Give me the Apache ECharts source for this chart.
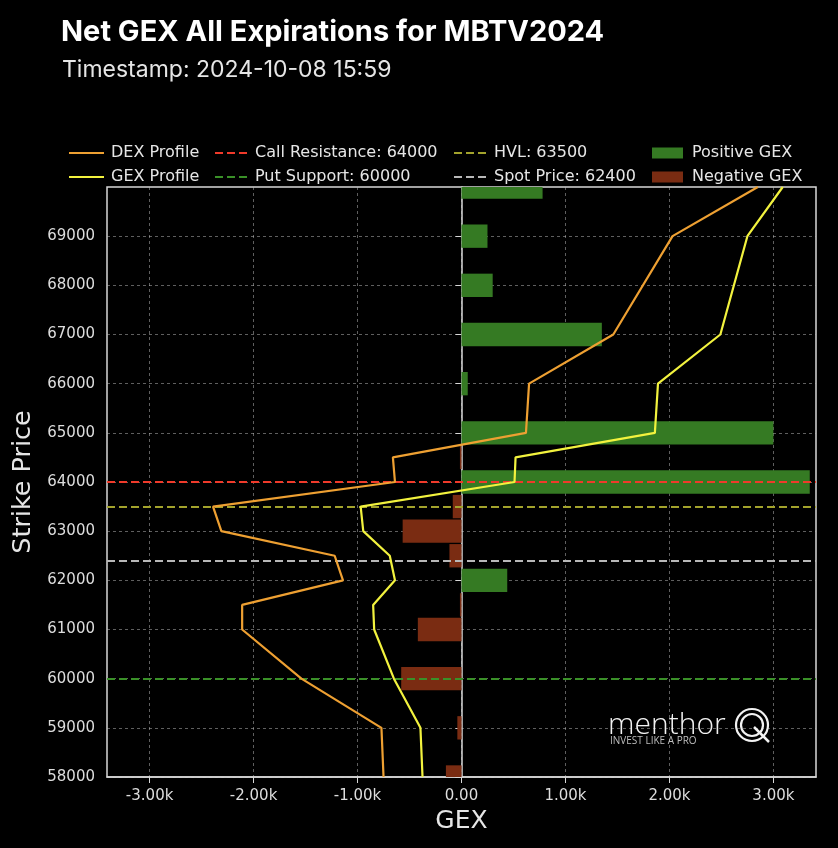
<!DOCTYPE html>
<html>
<head>
<meta charset="utf-8">
<script src="https://cdn.jsdelivr.net/npm/echarts@6/dist/echarts.min.js"></script>
<style>
  html, body { margin: 0; padding: 0; background: #000; }
  #chart { width: 838px; height: 848px; }
</style>
</head>
<body>
<div id="chart"></div>
<script>
// ---- data ----
const titleText = 'Net GEX All Expirations for MBTV2024';
const subtitleText = 'Timestamp: 2024-10-08 15:59';

const strikes = [58000, 58500, 59000, 59500, 60000, 60500, 61000, 61500, 62000, 62500,
                 63000, 63500, 64000, 64500, 65000, 65500, 66000, 66500, 67000, 67500,
                 68000, 68500, 69000, 69500, 70000];
const netGex  = [-150, 0, -40, 0, -580, 0, -420, -15, 440, -116,
                 -566, -84, 3350, -15, 3000, 0, 60, 0, 1350, 0,
                 300, 0, 250, 0, 780];

const profileStrikes = [58000, 59000, 60000, 61000, 61500, 62000, 62500, 63000, 63500,
                        64000, 64500, 65000, 66000, 67000, 69000, 70000];
const dexProfile = [-750, -770, -1540, -2110, -2110, -1140, -1220, -2310, -2390,
                    -640, -660, 620, 650, 1460, 2030, 2850];
const gexProfile = [-375, -395, -650, -840, -850, -640, -690, -945, -970,
                    510, 520, 1860, 1890, 2490, 2750, 3090];

const callResistance = 64000;
const putSupport = 60000;
const hvl = 63500;
const spotPrice = 62400;

const xTickValues = [-3000, -2000, -1000, 0, 1000, 2000, 3000];
const xTickLabels = ['-3.00k', '-2.00k', '-1.00k', '0.00', '1.00k', '2.00k', '3.00k'];
const yTickValues = [58000, 59000, 60000, 61000, 62000, 63000, 64000, 65000, 66000, 67000, 68000, 69000];
const yTickLabels = ['58000', '59000', '60000', '61000', '62000', '63000', '64000', '65000', '66000', '67000', '68000', '69000'];

// ---- chart ----
const chart = echarts.init(document.getElementById('chart'));
const BAR_HEIGHT = 475;
const FONT = '"DejaVu Sans", sans-serif';

function renderBar(params, api) {
  const v = api.value(0), s = api.value(1);
  const a = api.coord([0, s]);
  const b = api.coord([v, s]);
  const h = api.size([0, BAR_HEIGHT])[1];
  const cs = params.coordSys;
  const rect = echarts.graphic.clipRectByRect(
    { x: Math.min(a[0], b[0]), y: a[1] - h / 2, width: Math.abs(b[0] - a[0]), height: h },
    { x: cs.x, y: cs.y, width: cs.width, height: cs.height });
  return rect && { type: 'rect', shape: rect, style: api.style() };
}

const posData = [], negData = [];
strikes.forEach((s, i) => {
  if (netGex[i] > 0) posData.push([netGex[i], s]);
  else if (netGex[i] < 0) negData.push([netGex[i], s]);
});

function levelSeries(name, value, color) {
  return {
    name: name, type: 'line', data: [], symbol: 'none', color: color,
    lineStyle: { color: color, width: 2, type: [8, 4] },
    markLine: {
      silent: true, symbol: 'none', label: { show: false },
      lineStyle: { color: color, width: 2, type: [8, 4] },
      data: [{ yAxis: value }]
    },
    z: 4
  };
}

const legendCommon = {
  orient: 'vertical', top: 140, itemGap: 8, itemHeight: 11,
  textStyle: { color: '#e6e6e6', fontSize: 16, fontFamily: FONT, padding: [0, 0, 0, 2] },
  inactiveColor: '#555', selectedMode: false
};
const lineLegendExtra = { itemStyle: { opacity: 0 } };

const option = {
  backgroundColor: '#000',
  animation: false,
  title: [
    { text: titleText, left: 56, top: 13,
      textStyle: { color: '#fff', fontSize: 29, fontWeight: 'bold', fontFamily: 'Inter, sans-serif' } },
    { text: subtitleText, left: 57, top: 54,
      textStyle: { color: '#e6e6e6', fontSize: 23, fontWeight: 'normal', fontFamily: 'Inter, sans-serif' } }
  ],
  legend: [
    Object.assign({}, legendCommon, lineLegendExtra, { left: 63, itemWidth: 35, data: ['DEX Profile', 'GEX Profile'] }),
    Object.assign({}, legendCommon, lineLegendExtra, { left: 209, itemWidth: 33, data: ['Call Resistance: 64000', 'Put Support: 60000'] }),
    Object.assign({}, legendCommon, lineLegendExtra, { left: 448, itemWidth: 33, data: ['HVL: 63500', 'Spot Price: 62400'] }),
    Object.assign({}, legendCommon, { left: 647, itemWidth: 31, textStyle: Object.assign({}, legendCommon.textStyle, { padding: [0, 0, 0, 4] }),
      data: [{ name: 'Positive GEX', icon: 'rect' }, { name: 'Negative GEX', icon: 'rect' }] })
  ],
  grid: {
    left: 107, right: 22, top: 187, bottom: 71,
    show: true, borderColor: '#d8d8d8', borderWidth: 1.5, backgroundColor: '#000'
  },
  xAxis: {
    type: 'value', min: -3410, max: 3410,
    name: 'GEX', nameLocation: 'middle', nameGap: 31,
    nameTextStyle: { color: '#e6e6e6', fontSize: 25, fontFamily: FONT },
    axisLine: { show: true, lineStyle: { color: '#d8d8d8', width: 1.5 } },
    axisTick: { show: true, length: 6, customValues: xTickValues, lineStyle: { color: '#d8d8d8' } },
    axisLabel: {
      customValues: xTickValues, color: '#dddddd', fontSize: 15, fontFamily: FONT, margin: 12,
      formatter: v => xTickLabels[xTickValues.indexOf(v)]
    },
    splitLine: { show: true, lineStyle: { color: 'rgba(190,190,190,0.5)', width: 1, type: [3, 3] } }
  },
  yAxis: {
    type: 'value', min: 58000, max: 70000,
    name: 'Strike Price', nameLocation: 'middle', nameGap: 69, nameRotate: 90,
    nameTextStyle: { color: '#e6e6e6', fontSize: 25.5, fontFamily: FONT },
    axisLine: { show: true, lineStyle: { color: '#d8d8d8', width: 1.5 } },
    axisTick: { show: true, length: 6, customValues: yTickValues, lineStyle: { color: '#d8d8d8' } },
    axisLabel: {
      customValues: yTickValues, color: '#dddddd', fontSize: 15, fontFamily: FONT, margin: 12,
      formatter: v => yTickLabels[yTickValues.indexOf(v)]
    },
    splitLine: { show: true, lineStyle: { color: 'rgba(190,190,190,0.5)', width: 1, type: [3, 3] } }
  },
  graphic: [
    { type: 'text', left: 608, top: 710, z: 100,
      style: { text: 'menthor', fill: '#f2f2f2', font: '300 30px "Open Sans", sans-serif' } },
    { type: 'text', left: 610, top: 736, z: 100,
      style: { text: 'INVEST LIKE A PRO', fill: '#bdbdbd', font: '10px "Open Sans", sans-serif' } },
    { type: 'circle', shape: { cx: 752, cy: 725, r: 16 }, z: 100,
      style: { fill: 'none', stroke: '#f2f2f2', lineWidth: 2.2 } },
    { type: 'circle', shape: { cx: 752, cy: 725, r: 11 }, z: 100,
      style: { fill: 'none', stroke: '#f2f2f2', lineWidth: 2.2 } },
    { type: 'line', shape: { x1: 754, y1: 727, x2: 769, y2: 742 }, z: 100,
      style: { stroke: '#f2f2f2', lineWidth: 2.5 } }
  ],
  series: [
    { name: 'Positive GEX', type: 'custom', renderItem: renderBar, data: posData,
      encode: { x: 0, y: 1 }, itemStyle: { color: '#357a23' }, z: 2 },
    { name: 'Negative GEX', type: 'custom', renderItem: renderBar, data: negData,
      encode: { x: 0, y: 1 }, itemStyle: { color: '#7a2c12' }, z: 2 },
    { name: 'DEX Profile', type: 'line', symbol: 'none', color: '#eea032',
      lineStyle: { color: '#eea032', width: 2.2 },
      data: profileStrikes.map((s, i) => [dexProfile[i], s]), z: 5 },
    { name: 'GEX Profile', type: 'line', symbol: 'none', color: '#f2f23e',
      lineStyle: { color: '#f2f23e', width: 2.2 },
      data: profileStrikes.map((s, i) => [gexProfile[i], s]), z: 5 },
    levelSeries('Call Resistance: 64000', callResistance, '#f03a2a'),
    levelSeries('Put Support: 60000', putSupport, '#3a9128'),
    levelSeries('HVL: 63500', hvl, '#a3a32c'),
    levelSeries('Spot Price: 62400', spotPrice, '#b8b8b8')
  ]
};
chart.setOption(option);
</script>
</body>
</html>
